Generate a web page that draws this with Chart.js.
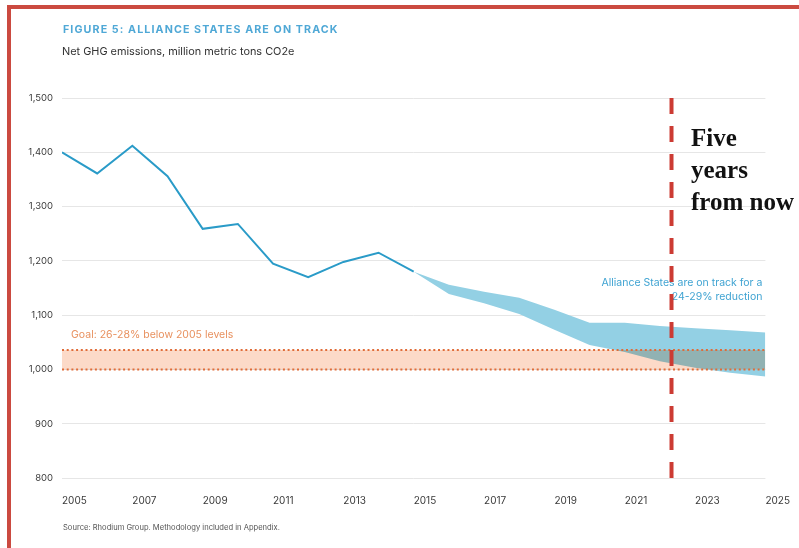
<!DOCTYPE html>
<html>
<head>
<meta charset="utf-8">
<script src="https://cdn.jsdelivr.net/npm/chart.js@4.4.1/dist/chart.umd.min.js"></script>
<style>
    body { margin: 0; background: #fff; }
    #wrap { position: relative; width: 799px; height: 548px; overflow: hidden; background: #fff; }
    #frame { position: absolute; left: 7px; top: 5px; width: 800px; height: 600px; border-top: 4px solid #cb4a40; border-left: 4px solid #cb4a40; }
    canvas { position: absolute; left: 0; top: 0; }
    .txt { position: absolute; white-space: nowrap; font-family: Inter, "Open Sans", sans-serif; }
    #title { left: 63px; top: 23px; font-size: 10.7px; font-weight: 700; letter-spacing: 1.1px; color: #4fa8d6; }
    #subtitle { left: 62px; top: 44px; font-size: 10.9px; color: #333; }
    #source { left: 63px; top: 523px; font-size: 7.6px; color: #555; }
    #five { left: 691px; top: 122px; font-family: "Liberation Serif", serif; font-weight: 700; font-size: 25px; line-height: 32px; color: #111; white-space: normal; width: 120px; }
</style>
</head>
<body>
<div id="wrap">
    <div id="frame"></div>
    <canvas id="chart" width="799" height="548"></canvas>
    <div class="txt" id="title">FIGURE 5: ALLIANCE STATES ARE ON TRACK</div>
    <div class="txt" id="subtitle">Net GHG emissions, million metric tons CO2e</div>
    <div class="txt" id="source">Source: Rhodium Group. Methodology included in Appendix.</div>
    <div class="txt" id="five">Five<br>years<br>from now</div>
</div>
<script>
// historical emissions
const histYears = [2005, 2006, 2007, 2008, 2009, 2010, 2011, 2012, 2013, 2014, 2015];
const histValues = [1400, 1361, 1412, 1356, 1259, 1268, 1195, 1170, 1198, 1215, 1180];

// projection range
const projYears = [2015, 2016, 2017, 2018, 2019, 2020, 2021, 2022, 2023, 2024, 2025];
const projHigh = [1180, 1156, 1143, 1132, 1110, 1086, 1086, 1080, 1076, 1072, 1068];
const projLow = [1180, 1139, 1122, 1102, 1073, 1045, 1032, 1015, 1003, 994, 987];

// goal band
const goalYears = [2005, 2025];
const goalLow = [1000, 1000];
const goalHigh = [1036, 1036];

// "five years from now" marker
const markerYear = 2022.33;
const yMin = 800;
const yMax = 1500;

const toPoints = (xs, ys) => xs.map((x, i) => ({ x: x, y: ys[i] }));

const GOAL_FILL_INDEX = 2;

// goal band is blended with multiply so it turns grey over the blue range
const blendPlugin = {
    id: 'blend',
    afterDatasetDraw(chart, args) {
        if (args.index === GOAL_FILL_INDEX + 1) {
            chart.ctx.globalCompositeOperation = 'multiply';
        }
    },
    beforeDatasetDraw(chart, args) {
        if (args.index === GOAL_FILL_INDEX) {
            chart.ctx.globalCompositeOperation = 'source-over';
        }
    }
};

const notesPlugin = {
    id: 'notes',
    beforeDatasetsDraw(chart) {
        const { ctx, scales: { x, y } } = chart;
        ctx.save();
        ctx.font = '10.5px Inter, sans-serif';
        ctx.textBaseline = 'middle';
        ctx.fillStyle = '#e8915f';
        ctx.textAlign = 'left';
        ctx.fillText('Goal: 26-28% below 2005 levels', x.getPixelForValue(2005) + 9, y.getPixelForValue(1064));

        ctx.font = '10.5px Inter, sans-serif';
        ctx.fillStyle = '#3fa3d2';
        ctx.textAlign = 'right';
        ctx.fillText('Alliance States are on track for a', x.getPixelForValue(2025) - 3, y.getPixelForValue(1159));
        ctx.fillText('24-29% reduction', x.getPixelForValue(2025) - 3, y.getPixelForValue(1133));
        ctx.restore();
    }
};

const ctx = document.getElementById('chart');

new Chart(ctx, {
    type: 'line',
    data: {
        datasets: [
            {
                data: toPoints([markerYear, markerYear], [yMax, yMin]),
                borderColor: '#cc3b33',
                borderWidth: 4,
                borderDash: [16, 12],
                pointRadius: 0,
                fill: false
            },
            {
                data: toPoints(goalYears, goalLow),
                borderColor: '#e06c38',
                borderWidth: 2,
                borderDash: [2, 2.7],
                pointRadius: 0,
                fill: false
            },
            {
                data: toPoints(goalYears, goalHigh),
                borderColor: '#e06c38',
                borderWidth: 2,
                borderDash: [2, 2.7],
                backgroundColor: 'rgb(252, 218, 200)',
                pointRadius: 0,
                fill: '-1'
            },
            {
                data: toPoints(histYears, histValues),
                borderColor: '#2a9bc8',
                borderWidth: 2,
                pointRadius: 0,
                tension: 0,
                fill: false
            },
            {
                data: toPoints(projYears, projHigh),
                borderWidth: 0,
                borderColor: 'rgba(0,0,0,0)',
                backgroundColor: 'rgb(147, 208, 228)',
                pointRadius: 0,
                fill: '+1'
            },
            {
                data: toPoints(projYears, projLow),
                borderWidth: 0,
                borderColor: 'rgba(0,0,0,0)',
                pointRadius: 0,
                fill: false
            }
        ]
    },
    options: {
        responsive: false,
        animation: false,
        events: [],
        layout: {
            padding: { left: 0, top: 98, right: 32, bottom: 0 }
        },
        scales: {
            x: {
                type: 'linear',
                min: 2005,
                max: 2025,
                grid: { display: false },
                border: { display: false },
                ticks: {
                    stepSize: 2,
                    align: 'start',
                    padding: 9,
                    color: '#3a3a3a',
                    font: { family: 'Inter', size: 10 },
                    callback: (v) => String(v)
                },
                afterFit: (scale) => { scale.height = 70; }
            },
            y: {
                min: yMin,
                max: yMax,
                grid: { color: '#e6e6e6', lineWidth: 1, drawTicks: false },
                border: { display: false },
                ticks: {
                    stepSize: 100,
                    padding: 9,
                    color: '#3a3a3a',
                    font: { family: 'Inter', size: 9.5 }
                },
                afterFit: (scale) => { scale.width = 62; }
            }
        },
        plugins: {
            legend: { display: false },
            tooltip: { enabled: false }
        }
    },
    plugins: [blendPlugin, notesPlugin]
});
</script>
</body>
</html>
